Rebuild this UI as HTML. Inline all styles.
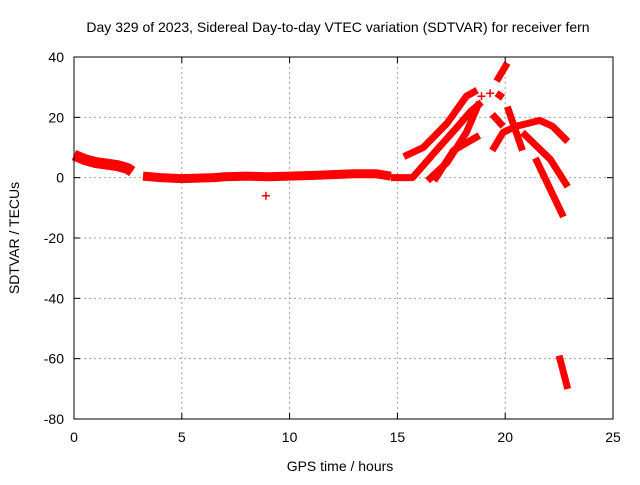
<!DOCTYPE html>
<html><head><meta charset="utf-8"><style>
body{margin:0;background:#fff;}
svg text{font-family:"Liberation Sans",sans-serif;font-size:14px;fill:#000;}
</style></head><body>
<svg id="c" width="640" height="480" xmlns="http://www.w3.org/2000/svg">
<rect width="640" height="480" fill="#fff"/>
<g id="grid"></g><g id="marks"></g><g id="axes"></g>
</svg>
<script>
const xTicks=[0,5,10,15,20,25];
const yTicks=[40,20,0,-20,-40,-60,-80];
const arcStart=[[0,7.5],[0.5,6],[1,5],[1.5,4.5],[2,4],[2.5,3],[2.7,2]];
const arcBase=[[3.2,0.5],[4,0],[5,-0.3],[6.5,0],[7,0.3],[8,0.5],[9,0.3],[10,0.5],[11,0.7],[12,1],[13,1.3],[14,1.3],[14.7,0.5]];
const arcUpper=[[15.3,7],[16.2,10],[17.3,18],[18.2,27],[18.7,29]];
const arcRise=[[14.7,0],[15.7,0],[16.8,9],[17.8,17],[18.4,22],[18.9,25]];
const arcMid=[[16.4,-1],[17.3,5],[18.2,15],[18.8,25]];
const arcLow=[[16.7,-1],[17.6,9],[18.8,14]];
const arcPeak=[[19.6,32],[20.1,38]];
const arcShort1=[[19.6,28],[19.9,26.5]];
const arcShort2=[[19.4,21],[19.9,17]];
const arcShort3=[[19.4,9],[19.9,15],[20.5,17]];
const arcCross=[[20.1,23.5],[20.8,9]];
const arcRight=[[20.5,17],[21.6,19],[22.2,17],[22.9,12]];
const arcDown1=[[20.8,15],[22.1,6],[22.9,-3]];
const arcDown2=[[21.4,6.5],[22.1,-4],[22.7,-13]];
const arcBottom=[[22.5,-59],[22.9,-70]];
const outliers=[[8.9,-6],[19.3,28],[18.9,27]];
const arcs=[arcStart,arcBase,arcUpper,arcRise,arcMid,arcLow,arcPeak,arcShort1,arcShort2,arcShort3,arcCross,arcRight,arcDown1,arcDown2,arcBottom];
const widths=[11,9,7,7,7,7,7,7,7,7,7,7,7,7,7];
const L=74,R=613,T=57,B=419;
const X=t=>L+(t-0)/25*(R-L);
const Y=v=>T+(40-v)/120*(B-T);
const ns="http://www.w3.org/2000/svg";
function mk(tag,attrs,parent){const e=document.createElementNS(ns,tag);for(const k in attrs)e.setAttribute(k,attrs[k]);parent.appendChild(e);return e;}
const grid=document.getElementById('grid'),marks=document.getElementById('marks'),axes=document.getElementById('axes');
xTicks.forEach(t=>{
  if(t>0&&t<25){const g=mk('line',{x1:X(t),x2:X(t),y1:T,y2:B,stroke:'#a0a0a0','stroke-dasharray':'2,3'},grid);
  
  }
  const tl=mk('line',{x1:X(t),x2:X(t),y1:B,y2:B-6,stroke:'#000'},axes);
  
  
  const tl2=mk('line',{x1:X(t),x2:X(t),y1:T,y2:T+6,stroke:'#000'},axes);
  
  
  const tx=mk('text',{x:X(t),y:B+23,'text-anchor':'middle'},axes);tx.textContent=t;
  
  
});
yTicks.forEach(v=>{
  if(v<40&&v>-80){const g=mk('line',{x1:L,x2:R,y1:Y(v),y2:Y(v),stroke:'#a0a0a0','stroke-dasharray':'2,3'},grid);
  
  }
  const tl=mk('line',{x1:L,x2:L+6,y1:Y(v),y2:Y(v),stroke:'#000'},axes);
  
  
  const tl2=mk('line',{x1:R,x2:R-6,y1:Y(v),y2:Y(v),stroke:'#000'},axes);
  
  
  const tx=mk('text',{x:L-10,y:Y(v)+5,'text-anchor':'end'},axes);tx.textContent=v;
  
  
});
const fr=mk('rect',{x:L,y:T,width:R-L,height:B-T,fill:'none',stroke:'#000'},axes);


arcs.forEach((a,i)=>{
  const p=mk('polyline',{points:a.map(d=>X(d[0])+','+Y(d[1])).join(' '),fill:'none',stroke:'#ff0000','stroke-width':widths[i],'stroke-linejoin':'round','stroke-linecap':'butt'},marks);
  
  
});
outliers.forEach(d=>{
  const p=mk('path',{d:`M${X(d[0])-4},${Y(d[1])}h8M${X(d[0])},${Y(d[1])-4}v8`,stroke:'#ff0000','stroke-width':1.5},marks);
  
  
});
const t1=mk('text',{x:338,y:32,'text-anchor':'middle'},axes);t1.textContent='Day 329 of 2023, Sidereal Day-to-day VTEC variation (SDTVAR) for receiver fern';


const t2=mk('text',{x:340,y:471,'text-anchor':'middle'},axes);t2.textContent='GPS time / hours';


const t3=mk('text',{x:19,y:238,'text-anchor':'middle',transform:'rotate(-90 19 238)'},axes);t3.textContent='SDTVAR / TECUs';


</script>
</body></html>
